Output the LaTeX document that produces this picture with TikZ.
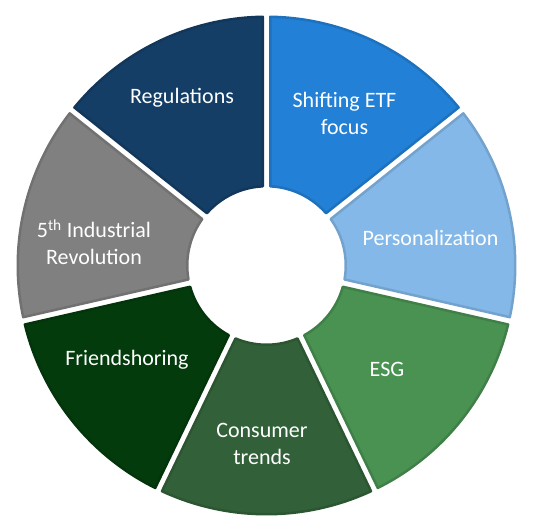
\documentclass[tikz,border=0pt]{standalone}
\usepackage{fontspec}
\setmainfont{Carlito}
\definecolor{regc}{RGB}{20,62,102}
\definecolor{shic}{RGB}{34,128,214}
\definecolor{perc}{RGB}{131,184,232}
\definecolor{esgc}{RGB}{73,146,82}
\definecolor{conc}{RGB}{50,97,57}
\definecolor{fric}{RGB}{3,59,12}
\definecolor{indc}{RGB}{128,128,128}
\begin{document}
\begin{tikzpicture}[x=1pt,y=1pt,
  lbl/.style={text=white,align=center,font=\fontsize{22}{26.5}\selectfont,inner sep=0pt}]
\useasboundingbox (0,0) rectangle (536,528);
\def\cx{266.5}\def\cy{262.5}
\def\R{248.75}\def\r{79.25}\def\g{3.75}
\pgfmathsetmacro\dR{asin(\g/\R)}
\pgfmathsetmacro\dr{asin(\g/\r)}
\pgfmathsetmacro\sp{360/7}
\foreach \k/\c in {0/regc,1/indc,2/fric,3/conc,4/esgc,5/perc,6/shic}{
  \pgfmathsetmacro\aa{90+\k*\sp}
  \pgfmathsetmacro\ab{90+(\k+1)*\sp}
  \pgfmathsetmacro\sa{\aa+\dR}
  \pgfmathsetmacro\sb{\ab-\dR}
  \pgfmathsetmacro\ta{\ab-\dr}
  \pgfmathsetmacro\tb{\aa+\dr}
  \fill[\c,draw=\c!88!black,line width=2.5pt,line join=round]
    ([shift={(\cx,\cy)}]\sa:\R) arc[start angle=\sa,end angle=\sb,radius=\R]
    -- ([shift={(\cx,\cy)}]\ta:\r) arc[start angle=\ta,end angle=\tb,radius=\r]
    -- cycle;
}
\node[lbl] (reg) at (182,430) {Regulations};
\node[lbl] (shi) at (344.5,414.5) {Shifting ETF\\focus};
\node[lbl] (per) at (430.5,290) {Personalization};
\node[lbl] (esg) at (387,159) {ESG};
\node[lbl] (con) at (262,84) {Consumer\\trends};
\node[lbl] (fri) at (127,168) {Friendshoring};
\node[lbl] (ind) at (94,286) {5\textsuperscript{th} Industrial\\Revolution};
\end{tikzpicture}
\end{document}
